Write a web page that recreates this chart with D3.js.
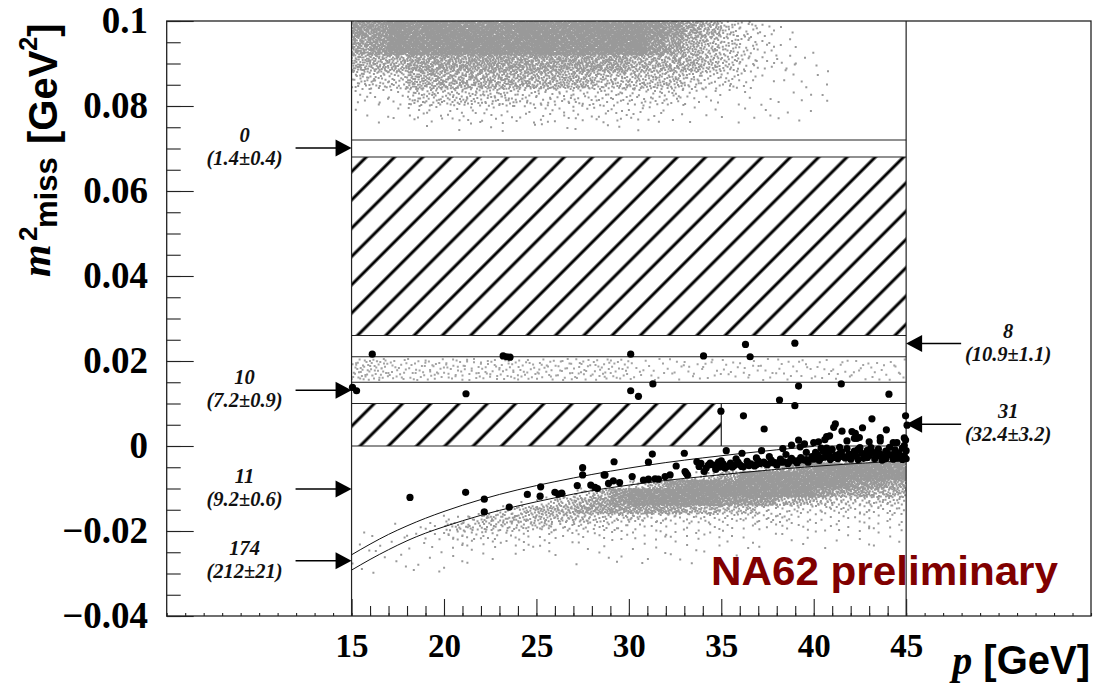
<!DOCTYPE html>
<html><head><meta charset="utf-8">
<script src="https://cdn.jsdelivr.net/npm/d3@7"></script>
<style>body{margin:0;background:#fff}</style>
</head><body>
<svg id="c" width="1097" height="687"></svg>
<script>
// ---------------- data ----------------
const xMajorTicks = [15,20,25,30,35,40,45];
const xTickLabels = ["15","20","25","30","35","40","45"];
const yMajorTicks = [-0.04,-0.02,0,0.02,0.04,0.06,0.08,0.1];
const yTickLabels = ["\u22120.04","\u22120.02","0","0.02","0.04","0.06","0.08","0.1"];

const bandEdges = [0.072,0.068,0.026,0.021,0.015,0.010,0];
const hatchP0 = [15,15], hatchP1 = [45,35], hatchM0 = [0.026,0], hatchM1 = [0.068,0.010];

const upperCurveP = [15,16,17,18,19,20,22,24,26,28,30,32,34,36,38,40];
const upperCurveM = [-0.0256,-0.0231,-0.0208,-0.0188,-0.0170,-0.0154,-0.0126,-0.0103,-0.0084,-0.0067,-0.0052,-0.0039,-0.0028,-0.0018,-0.0009,-0.0001];
const lowerCurveP = [15,16,17,18,19,20,22,24,26,28,30,32,34,36,38,40,42,45];
const lowerCurveM = [-0.0292,-0.0267,-0.0244,-0.0223,-0.0205,-0.0190,-0.0163,-0.0141,-0.0122,-0.0105,-0.0092,-0.0081,-0.0072,-0.0063,-0.0055,-0.0048,-0.0042,-0.0035];

// black (data) events
const blackP = [16.12,23.2,23.4,23.57,30.1,34.04,36.56,36.31,38.98,15.05,15.27,21.19,30.1,30.52,31.3,39.18,41.49,44.07,38.15,38.98,34.98,36.2,37.32,41.17,41.08,43.15,42.64,43.93,44.97,45.05,41.53,42.07,42.25,42.47,40.86,44.97,39.18,40.26,40.7,42.34,43.6,44.5,
39.27,38.33,37.18,36.12,35.27,33.0,31.27,29.2,31.06,32.56,33.68,33.9,34.18,34.07,34.85,28.66,30.18,29.16,28.9,29.5,30.79,31.06,31.42,31.6,31.96,32.23,33.1,33.17,33.04,
18.16,21.17,22.18,22.18,23.53,24.51,25.23,25.2,26.0,26.19,26.37,27.21,27.5,27.5,27.94,28.17,28.3,28.71,
34.6,34.9,35.1,35.3,35.5,35.7,35.9,36.0,36.2,36.4,36.6,36.8,37.0,37.1,37.3,37.5,37.7,37.9,38.0,38.2,38.4,38.6,38.8,39.0,39.1,39.3,39.5,39.7,39.9,
40.0,40.2,40.3,40.5,40.6,40.8,40.9,41.0,41.2,41.3,41.5,41.6,41.8,41.9,42.0,42.2,42.3,42.5,42.6,42.7,42.9,43.0,43.2,43.3,43.5,43.6,43.8,43.9,44.1,44.2,44.4,44.5,44.6,44.8,44.9,45.0,
39.5,40.0,40.6,41.8,43.0,43.6,44.3,44.9,42.2,38.8,
40.1,40.4,40.7,41.1,41.4,41.7,42.1,42.4,42.8,43.1,43.4,43.7,44.0,44.3,44.7,45.0,44.9,38.5,39.6,37.6,36.9,35.8,35.0,34.4,
34.7,35.2,35.6,36.1,36.5,36.9,37.4,37.8,38.3,38.7,39.2,39.6,40.1,40.4,40.9,41.4,41.9,42.4,42.9,43.4,43.9,44.4,44.8,33.8,34.3];
const blackM = [0.0216,0.0212,0.0210,0.0209,0.0216,0.0212,0.0210,0.0239,0.0242,0.0138,0.0130,0.0123,0.0130,0.0117,0.0146,0.0141,0.0146,0.0122,0.0108,0.0095,0.0082,0.0071,0.0040,0.0052,0.0044,0.0064,0.0043,0.0038,0.0071,0.0049,0.0035,0.0034,0.0030,0.0020,0.0024,0.0014,0.0014,0.0010,0.0022,0.0018,0.0012,0.0008,
-0.0002,-0.0006,-0.0011,-0.0017,-0.0011,-0.0017,-0.0019,-0.0037,-0.0038,-0.0047,-0.0037,-0.0041,-0.0052,-0.0060,-0.0038,-0.0068,-0.0072,-0.0082,-0.0088,-0.0086,-0.0080,-0.0078,-0.0077,-0.0078,-0.0072,-0.0068,-0.0064,-0.0068,-0.0060,
-0.0121,-0.0109,-0.0125,-0.0155,-0.0144,-0.0114,-0.0096,-0.0118,-0.0109,-0.0113,-0.0111,-0.0093,-0.0051,-0.0068,-0.0092,-0.0097,-0.0100,-0.0068,
-0.0045,-0.0050,-0.0042,-0.0048,-0.0040,-0.0046,-0.0038,-0.0044,-0.0049,-0.0036,-0.0042,-0.0047,-0.0035,-0.0041,-0.0038,-0.0044,-0.0033,-0.0039,-0.0045,-0.0031,-0.0037,-0.0042,-0.0029,-0.0035,-0.0040,-0.0027,-0.0033,-0.0038,-0.0025,
-0.0031,-0.0020,-0.0034,-0.0012,-0.0026,-0.0018,-0.0032,-0.0008,-0.0022,-0.0030,-0.0014,-0.0025,-0.0006,-0.0019,-0.0031,-0.0012,-0.0024,-0.0004,-0.0017,-0.0029,-0.0010,-0.0022,-0.0015,-0.0030,-0.0007,-0.0019,-0.0026,-0.0012,-0.0003,-0.0021,-0.0009,-0.0028,-0.0016,-0.0005,-0.0023,-0.0011,
0.0005,0.0008,0.0015,0.0012,0.0010,0.0020,0.0008,0.0019,0.0018,0.0002,
-0.0015,-0.0005,-0.0005,-0.0027,-0.0003,-0.0028,-0.0020,-0.0032,-0.0020,-0.0004,-0.0024,-0.0033,-0.0018,-0.0031,-0.0025,-0.0030,0.0001,-0.0020,-0.0015,-0.0025,-0.0028,-0.0030,-0.0035,-0.0040,
-0.0055,-0.0052,-0.0050,-0.0048,-0.0046,-0.0044,-0.0042,-0.0040,-0.0038,-0.0036,-0.0034,-0.0032,-0.0025,-0.0028,-0.0024,-0.0018,-0.0026,-0.0008,-0.0027,-0.0016,-0.0030,-0.0014,-0.0032,-0.0048,-0.0045];

// grey (simulation) density read per 1 GeV column, starting at p = 15
const grayColStart = 15;
const cloudRowLo = [0.096,0.092,0.088,0.084,0.080,0.076,0.074];
const cloudRowHi = [0.100,0.096,0.092,0.088,0.084,0.080,0.076];
const cloudDensity = [
  "889999999999999998764321000000",
  "789999999999999987654321100000",
  "666777777777777666654322110000",
  "444666666666655555433211110000",
  "222444444333333333221111110000",
  "111222222222222221111111100000",
  "000011111111111100000000000000"];
const midRowLo = [0.0155], midRowHi = [0.0205];
const midDensity = ["443333333333333222222222222222"];
const bandRowLo = [-0.004,-0.006,-0.008,-0.010,-0.012,-0.014,-0.016,-0.018,-0.020,-0.022,-0.024,-0.026,-0.028,-0.030];
const bandRowHi = [-0.002,-0.004,-0.006,-0.008,-0.010,-0.012,-0.014,-0.016,-0.018,-0.020,-0.022,-0.024,-0.026,-0.028];
const bandDensity = [
  "000000000000000000000000024567",
  "000000000000000000000247899999",
  "000000000000000000357999999999",
  "000000000000001468999999999887",
  "000000000001468999999999987766",
  "000000000135678999998886654444",
  "000000013566777777665533333333",
  "000012355555544433333333222222",
  "001124444443333222222222222222",
  "111223332222222222221111111111",
  "111112222221111111111111111111",
  "111111111111111111111100000000",
  "111111110000111111100000000000",
  "111111000000000000000000000000"];

// annotations
const leftCounts = ["0","10","11","174"];
const leftExpected = ["(1.4\u00b10.4)","(7.2\u00b10.9)","(9.2\u00b10.6)","(212\u00b121)"];
const leftArrowM = [0.0701,0.0131,-0.0101,-0.0270];
const rightCounts = ["8","31"];
const rightExpected = ["(10.9\u00b11.1)","(32.4\u00b13.2)"];
const rightArrowM = [0.0241,0.0051];

// ---------------- drawing ----------------
const svg = d3.select("#c");
const x = d3.scaleLinear().domain([5,55]).range([166.7,1091]);
const y = d3.scaleLinear().domain([-0.04,0.1]).range([616,21]);
const frameCol = "#222";
const serif = "'Liberation Serif','Times New Roman',serif";
const sans = "'Liberation Sans',Arial,Helvetica,sans-serif";

const defs = svg.append("defs");
defs.append("clipPath").attr("id","plotclip").append("rect")
  .attr("x",x(15)).attr("y",y(0.1)).attr("width",x(45)-x(15)).attr("height",y(-0.04)-y(0.1));
const pat = defs.append("pattern").attr("id","hatch").attr("patternUnits","userSpaceOnUse")
  .attr("width",20).attr("height",20).attr("patternTransform","rotate(45)");
pat.append("line").attr("x1",10).attr("y1",-2).attr("x2",10).attr("y2",22)
  .attr("stroke","#000").attr("stroke-width",3);

// grey stipple
const dotsPer100 = [0,0.7,2,4.5,8,12,18,26,38,60];
function halton(i,b){let f=1,r=0;while(i>0){f/=b;r+=f*(i%b);i=Math.floor(i/b);}return r;}
function stipple(rowLo,rowHi,dens,setIdx){
  let d="";
  dens.forEach((row,r)=>{
    for(let c=0;c<row.length;c++){
      const lvl=+row[c]; if(!lvl) continue;
      const p0=grayColStart+c;
      const w=x(p0+1)-x(p0), h=y(rowLo[r])-y(rowHi[r]);
      const n=Math.round(dotsPer100[lvl]*w*h/100);
      const off=((c+3)*131+(r+5)*577+setIdx*1999)%5000;
      for(let k=0;k<n;k++){
        const px=x(p0+halton(off+k+1,2));
        const py=y(rowLo[r]+halton(off+k+1,3)*(rowHi[r]-rowLo[r]));
        d+=`M${(px-1).toFixed(1)},${(py-1).toFixed(1)}h2v2h-2z`;
      }
    }
  });
  return d;
}
const gg = svg.append("g").attr("clip-path","url(#plotclip)");
gg.append("path").attr("d",stipple(cloudRowLo,cloudRowHi,cloudDensity,1)).attr("fill","#999");
gg.append("path").attr("d",stipple(midRowLo,midRowHi,midDensity,2)).attr("fill","#a3a3a3");
gg.append("path").attr("d",stipple(bandRowLo,bandRowHi,bandDensity,3)).attr("fill","#999");

// hatched regions
hatchP0.forEach((p0,i)=>{
  svg.append("rect").attr("x",x(p0)).attr("y",y(hatchM1[i]))
    .attr("width",x(hatchP1[i])-x(p0)).attr("height",y(hatchM0[i])-y(hatchM1[i]))
    .attr("fill","url(#hatch)");
});
// band edges
svg.append("g").selectAll("line").data(bandEdges).join("line")
  .attr("x1",x(15)).attr("x2",x(45)).attr("y1",d=>y(d)).attr("y2",d=>y(d))
  .attr("stroke",frameCol).attr("stroke-width",1.2);
svg.append("line").attr("x1",x(35)).attr("x2",x(35)).attr("y1",y(0)).attr("y2",y(0.010))
  .attr("stroke",frameCol).attr("stroke-width",1.2);
[15,45].forEach(v=>svg.append("line").attr("x1",x(v)).attr("x2",x(v)).attr("y1",y(-0.04)).attr("y2",y(0.1))
  .attr("stroke",frameCol).attr("stroke-width",1.2));

// curves
const line = d3.line().x(d=>x(d[0])).y(d=>y(d[1])).curve(d3.curveMonotoneX);
svg.append("path").attr("d",line(upperCurveP.map((p,i)=>[p,upperCurveM[i]])))
  .attr("fill","none").attr("stroke","#111").attr("stroke-width",1);
svg.append("path").attr("d",line(lowerCurveP.map((p,i)=>[p,lowerCurveM[i]])))
  .attr("fill","none").attr("stroke","#111").attr("stroke-width",1);

// black points
svg.append("g").selectAll("circle").data(blackP.map((p,i)=>[p,blackM[i]])).join("circle")
  .attr("cx",d=>x(d[0])).attr("cy",d=>y(d[1])).attr("r",3.6).attr("fill","#000");

// frame
svg.append("rect").attr("x",x(5)).attr("y",y(0.1)).attr("width",x(55)-x(5)).attr("height",y(-0.04)-y(0.1))
  .attr("fill","none").attr("stroke",frameCol).attr("stroke-width",1.3);

// axes
function styleAxis(g){ g.select(".domain").remove(); g.selectAll(".tick line").attr("stroke",frameCol).attr("stroke-width",1.1); }
const xAll = d3.range(5,56);
const xMinor = d3.range(15,46).filter(v=>v%5!==0);
svg.append("g").attr("transform",`translate(0,${y(-0.04)})`)
  .call(d3.axisBottom(x).tickValues(xAll).tickSize(-3).tickFormat("")).call(styleAxis);
svg.append("g").attr("transform",`translate(0,${y(-0.04)})`)
  .call(d3.axisBottom(x).tickValues(xMinor).tickSize(-10).tickFormat("")).call(styleAxis);
const xa = svg.append("g").attr("transform",`translate(0,${y(-0.04)})`)
  .call(d3.axisBottom(x).tickValues(xMajorTicks).tickSize(-17).tickPadding(17.6).tickFormat((d,i)=>xTickLabels[i])).call(styleAxis);
xa.attr("font-family",null).attr("font-size",null);
xa.selectAll("text").attr("font-family",serif).attr("font-weight","bold").attr("font-size",33).attr("fill","#000");

const yAll = d3.range(0,29).map(i=>-0.04+i*0.005);
svg.append("g").attr("transform",`translate(${x(5)},0)`)
  .call(d3.axisLeft(y).tickValues(yAll).tickSize(-14).tickFormat("")).call(styleAxis);
const ya = svg.append("g").attr("transform",`translate(${x(5)},0)`)
  .call(d3.axisLeft(y).tickValues(yMajorTicks).tickSize(-27).tickPadding(18.7).tickFormat((d,i)=>yTickLabels[i])).call(styleAxis);
ya.attr("font-family",null).attr("font-size",null);
ya.selectAll("text").attr("font-family",serif).attr("font-weight","bold").attr("font-size",37).attr("fill","#000");

// axis titles
svg.append("text").attr("transform","translate(50,277) rotate(-90)")
  .attr("font-family",serif).attr("font-style","italic").attr("font-weight","bold").attr("font-size",42).text("m");
svg.append("text").attr("transform","translate(37,241) rotate(-90)")
  .attr("font-family",sans).attr("font-weight","bold").attr("font-size",26).text("2");
svg.append("text").attr("transform","translate(57,228) rotate(-90)")
  .attr("font-family",sans).attr("font-weight","bold").attr("font-size",31).text("miss");
const gt = svg.append("text").attr("transform","translate(57,144) rotate(-90)")
  .attr("font-family",sans).attr("font-weight","bold").attr("font-size",40);
gt.append("tspan").text("[GeV");
gt.append("tspan").attr("font-size",25).attr("dy",-20).text("2");
gt.append("tspan").attr("dy",20).text("]");

const xt = svg.append("text").attr("x",1090).attr("y",674).attr("text-anchor","end").attr("font-size",40).attr("font-weight","bold");
xt.append("tspan").attr("font-family",serif).attr("font-style","italic").text("p");
xt.append("tspan").attr("font-family",sans).text(" [GeV]");

// annotations
function annText(cx, cy, str){
  svg.append("text").attr("x",cx).attr("y",cy).attr("text-anchor","middle")
    .attr("font-family",serif).attr("font-style","italic").attr("font-weight","bold")
    .attr("font-size",20.5).attr("fill","#111").text(str);
}
leftArrowM.forEach((m,i)=>{
  const ay=y(m), tip=x(15);
  svg.append("line").attr("x1",tip-56).attr("x2",tip-14).attr("y1",ay).attr("y2",ay).attr("stroke","#000").attr("stroke-width",1.5);
  svg.append("path").attr("d",`M${tip},${ay}L${tip-16},${ay-8.5}L${tip-16},${ay+8.5}Z`).attr("fill","#000");
  annText(tip-107, ay-6, leftCounts[i]);
  annText(tip-107, ay+17, leftExpected[i]);
});
rightArrowM.forEach((m,i)=>{
  const ay=y(m), tip=x(45);
  svg.append("line").attr("x1",tip+14).attr("x2",tip+55).attr("y1",ay).attr("y2",ay).attr("stroke","#000").attr("stroke-width",1.5);
  svg.append("path").attr("d",`M${tip},${ay}L${tip+16},${ay-8.5}L${tip+16},${ay+8.5}Z`).attr("fill","#000");
  annText(tip+102, ay-6, rightCounts[i]);
  annText(tip+102, ay+17, rightExpected[i]);
});

// NA62 preliminary
svg.append("text").attr("x",711).attr("y",585).attr("font-family",sans).attr("font-weight","bold")
  .attr("font-size",40).attr("fill","#800000").attr("textLength",347).attr("lengthAdjust","spacingAndGlyphs")
  .text("NA62 preliminary");
</script>
</body></html>
